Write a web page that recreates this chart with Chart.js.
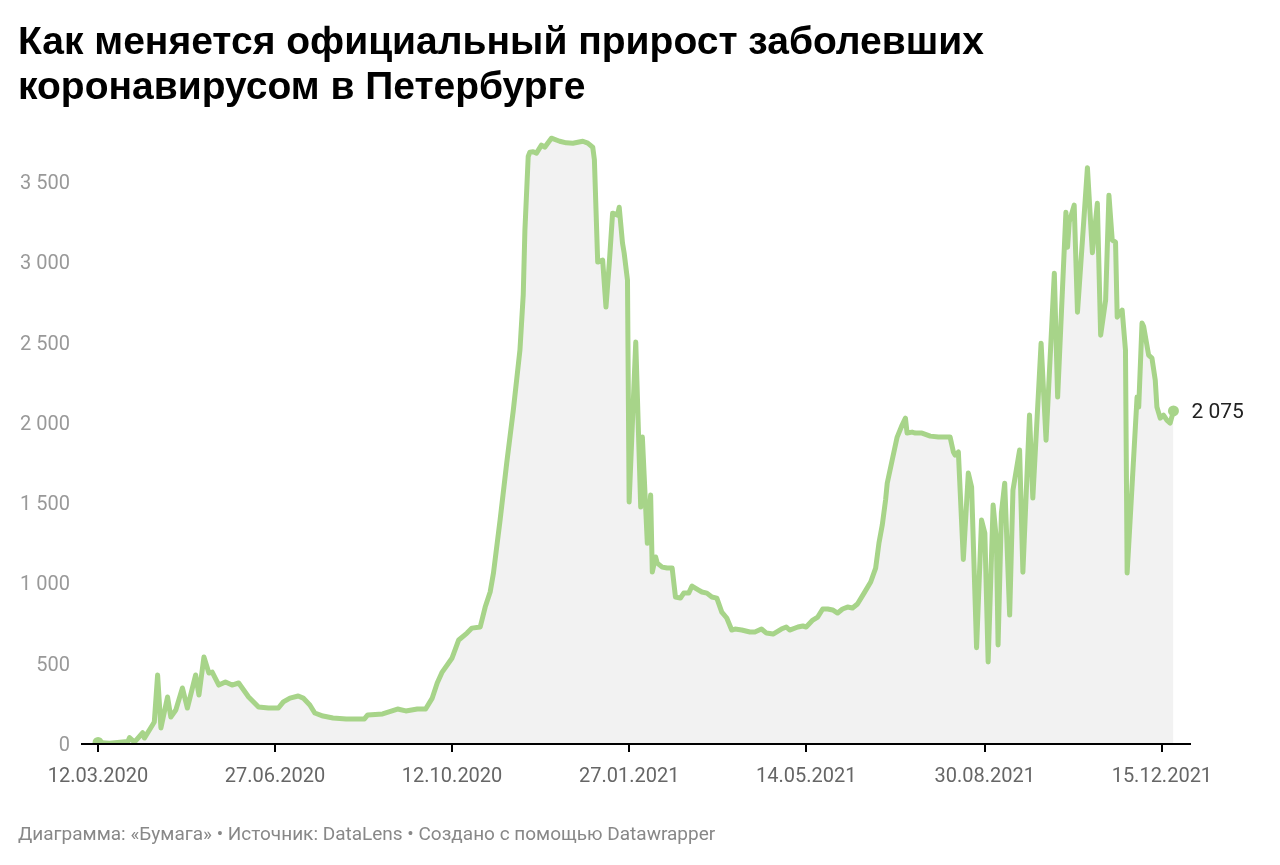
<!DOCTYPE html>
<html>
<head>
<meta charset="utf-8">
<script src="https://cdn.jsdelivr.net/npm/chart.js@4.4.0/dist/chart.umd.min.js"></script>
<style>
  html, body { margin: 0; padding: 0; background: #fff; }
  body { width: 1280px; height: 865px; position: relative; overflow: hidden; }
  #title { position: absolute; left: 18px; top: 18px; font-family: "Liberation Sans", Arial, sans-serif; font-weight: bold; font-size: 39px; line-height: 45px; color: #000; }
  #footer { position: absolute; left: 18px; top: 824px; font-family: Roboto, sans-serif; font-size: 19px; line-height: 20px; color: #888; }
  #wrap { position: absolute; left: 0; top: 0; width: 1280px; height: 865px; }
</style>
</head>
<body>
<div id="wrap"><canvas id="c" width="1280" height="865"></canvas></div>
<div id="title">Как меняется официальный прирост заболевших<br>коронавирусом в Петербурге</div>
<div id="footer">Диаграмма: «Бумага» • Источник: DataLens • Создано с помощью Datawrapper</div>
<script>
// Days since 12.03.2020
const startDate = '12.03.2020';
const dayOffsets = [0,7,18,19,22,27,28,33,34,36,38,42,44,47,51,54,59,61,64,67,69,73,77,81,85,91,97,103,109,112,116,121,124,128,131,136,142,150,161,163,172,181,186,193,198,202,205,208,214,218,223,226,231,234,237,239,243,247,251,255,257,258,260,261,263,265,268,270,274,279,283,287,293,296,299,300,302,305,307,309,311,314,315,317,318,320,321,325,328,329,332,334,335,337,338,341,344,347,349,352,354,357,359,363,365,368,371,374,377,380,383,385,389,394,397,401,404,408,413,416,418,423,426,428,432,435,438,441,444,447,450,453,456,459,463,467,470,472,474,476,477,480,483,486,488,489,492,494,498,503,508,515,517,518,520,523,526,528,531,534,536,538,541,543,544,546,548,551,553,557,559,563,565,570,573,578,580,585,586,587,590,592,598,601,604,606,609,611,613,615,616,619,621,622,628,629,631,632,635,637,639,640,642,644,646,648,650];
const dailyCases = [10,5,15,40,12,70,37,120,137,430,100,293,168,212,349,224,430,305,542,442,448,367,386,367,380,293,230,224,224,262,286,299,286,243,193,174,162,156,156,181,187,218,206,218,218,286,380,448,536,648,691,722,729,853,947,1065,1395,1750,2080,2454,2800,3200,3660,3687,3690,3681,3731,3718,3774,3755,3745,3743,3755,3743,3718,3640,3002,3014,2722,2996,3307,3295,3344,3120,3058,2890,1507,2504,1476,1912,1250,1551,1071,1165,1127,1102,1096,1096,916,909,940,940,984,959,947,940,916,909,822,785,710,716,710,698,698,716,691,685,716,729,710,729,735,729,772,791,841,841,835,816,841,853,847,872,940,1009,1096,1252,1364,1520,1625,1769,1912,1987,2030,1937,1943,1937,1937,1918,1912,1912,1819,1800,1819,1150,1688,1600,600,1395,1314,511,1489,1271,617,1439,1625,803,1582,1831,1070,2050,1532,2497,1893,2933,2161,3313,3095,3251,3357,2690,3590,3060,3369,2547,2765,3419,3139,3126,2659,2703,2454,1065,2161,2099,2622,2600,2423,2404,2267,2099,2030,2049,2018,1999,2075];
const xTickDays = [0,107,214,321,428,536,643];
const xTickLabels = ['12.03.2020','27.06.2020','12.10.2020','27.01.2021','14.05.2021','30.08.2021','15.12.2021'];
const yTickValues = [0,500,1000,1500,2000,2500,3000,3500];

const GREEN = '#a7d489';
function fmt(v) { return String(v).replace(/\B(?=(\d{3})+(?!\d))/g, ' '); }

const points = dayOffsets.map((d, i) => ({ x: d, y: dailyCases[i] }));
const lastIdx = points.length - 1;

const endLabel = {
  id: 'endLabel',
  afterDatasetsDraw(chart) {
    const meta = chart.getDatasetMeta(0);
    const el = meta.data[lastIdx];
    const ctx = chart.ctx;
    ctx.save();
    ctx.font = '21px Roboto';
    ctx.fillStyle = '#222';
    ctx.textAlign = 'left';
    ctx.textBaseline = 'middle';
    ctx.fillText(fmt(dailyCases[lastIdx]), el.x + 18, el.y + 2);
    ctx.restore();
  }
};

new Chart(document.getElementById('c'), {
  type: 'line',
  data: {
    datasets: [{
      data: points,
      borderColor: GREEN,
      backgroundColor: '#f2f2f2',
      fill: 'origin',
      borderWidth: 5,
      tension: 0,
      borderJoinStyle: 'round',
      borderCapStyle: 'round',
      pointRadius: (c) => (c.dataIndex === 0 || c.dataIndex === lastIdx) ? 5.5 : 0,
      pointBackgroundColor: GREEN,
      pointBorderWidth: 0,
      pointHoverRadius: 0
    }]
  },
  options: {
    responsive: false,
    animation: false,
    devicePixelRatio: 1,
    layout: { padding: { left: 0, right: 90, top: 126, bottom: 65 } },
    plugins: { legend: { display: false }, tooltip: { enabled: false } },
    scales: {
      x: {
        type: 'linear',
        min: -9.7,
        max: 660,
        afterBuildTicks: (s) => { s.ticks = xTickDays.map(v => ({ value: v })); },
        afterFit: (s) => { s.height = 56; },
        ticks: {
          autoSkip: false, maxRotation: 0, minRotation: 0,
          padding: 13,
          color: '#666',
          font: { family: 'Roboto', size: 20 },
          callback: (v) => xTickLabels[xTickDays.indexOf(v)]
        },
        grid: { display: true, z: 1, drawOnChartArea: false, drawTicks: true, tickLength: 8, color: '#000', lineWidth: 2 },
        border: { display: true, z: 1, color: '#000', width: 2 }
      },
      y: {
        min: 0,
        max: 3850,
        afterBuildTicks: (s) => { s.ticks = yTickValues.map(v => ({ value: v })); },
        afterFit: (s) => { s.width = 82; },
        ticks: {
          padding: 12,
          labelOffset: 2,
          color: '#999',
          font: { family: 'Roboto', size: 20 },
          callback: (v) => fmt(v)
        },
        grid: { display: false, drawTicks: false },
        border: { display: false }
      }
    }
  },
  plugins: [endLabel]
});
</script>
</body>
</html>
